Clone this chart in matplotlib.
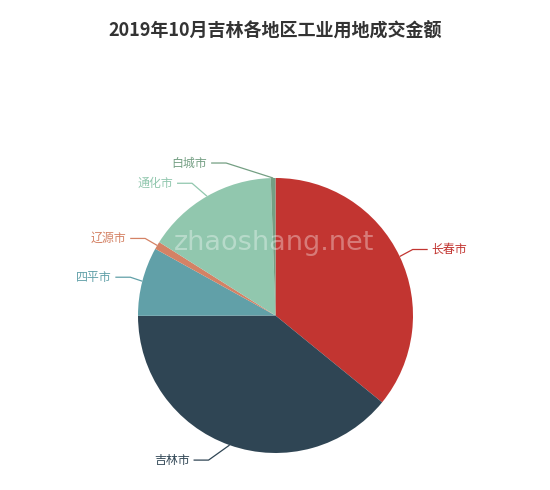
import numpy as np
import matplotlib
matplotlib.use('Agg')
import matplotlib.pyplot as plt

plt.rcParams['font.family'] = ['Noto Sans CJK SC', 'DejaVu Sans']

# data, clockwise from 12 o'clock
cities = ['长春市', '吉林市', '四平市', '辽源市', '通化市', '白城市']
shares = [35.9, 39.1, 8.1, 0.9, 15.5, 0.55]
colors = ['#c23531', '#2f4554', '#61a0a8', '#d48265', '#91c7ae', '#749f83']
title = '2019年10月吉林各地区工业用地成交金额'

W, H = 550, 490
cx, cy, R = 275.5, H - 315.5, 137.5

# label line elbows (pixel offsets from the slice edge point)
elbow = [(13, 7), (-21, -15), (-12, 4), (-12, 7), (-15, 13), (-47, 15)]
LEN2 = 15

fig = plt.figure(figsize=(W / 100, H / 100), dpi=100)
ax = fig.add_axes([0, 0, 1, 1])
ax.set_axis_off()

wedges, _ = ax.pie(shares, colors=colors, startangle=90, counterclock=False,
                   center=(cx, cy), radius=R,
                   wedgeprops=dict(linewidth=0))
ax.set_xlim(0, W)
ax.set_ylim(0, H)
ax.set_aspect('equal')

for w, name, col, (ex, ey) in zip(wedges, cities, colors, elbow):
    mid = np.deg2rad((w.theta1 + w.theta2) / 2)
    x1, y1 = cx + R * np.cos(mid), cy + R * np.sin(mid)
    x2, y2 = x1 + ex, y1 + ey
    side = 1 if np.cos(mid) >= 0 else -1
    x3 = x2 + side * LEN2
    ax.plot([x1, x2, x3], [y1, y2, y2], color=col, lw=0.9,
            solid_capstyle='butt')
    ax.text(x3 + side * 4, y2, name, color=col, fontsize=8.6,
            ha='left' if side > 0 else 'right', va='center')

ax.text(274, H - 243, 'zhaoshang.net', color='white', alpha=0.35,
        fontsize=19.5, ha='center', va='center', family='DejaVu Sans')

fig.text(275.5 / W, 1 - 31 / H, title, fontsize=13, fontweight='bold',
         color='#333333', ha='center', va='center')

fig.savefig('out.png', dpi=100, facecolor='white')
